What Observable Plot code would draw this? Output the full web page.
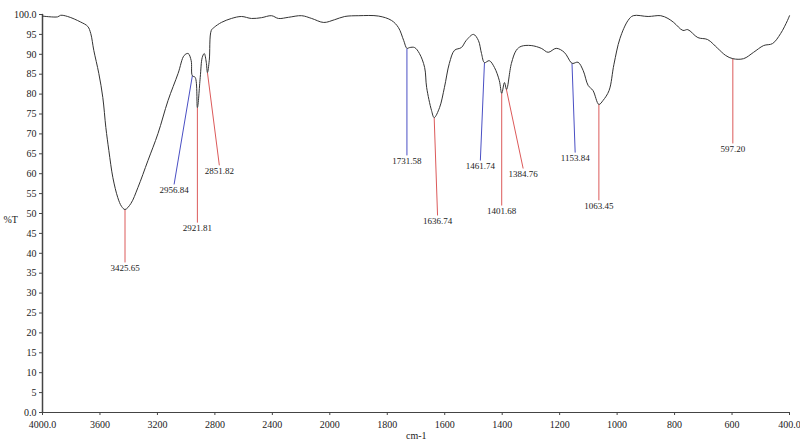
<!DOCTYPE html>
<html>
<head>
<meta charset="utf-8">
<script src="https://cdn.jsdelivr.net/npm/d3@7"></script>
<script src="https://cdn.jsdelivr.net/npm/@observablehq/plot@0.6"></script>
<style>
  html, body { margin: 0; padding: 0; background: #fff; }
  #chart svg { display: block; }
</style>
</head>
<body>
<div id="chart"></div>
<script>
// IR spectrum (%T vs wavenumber, cm-1)
const wavenumber = [4000, 3895, 3874, 3825, 3734, 3685, 3664, 3643, 3608, 3580, 3559, 3538, 3510, 3476, 3450, 3425.65,
  3385, 3336, 3266, 3196, 3126, 3056, 3014, 2986, 2965, 2956.84, 2937, 2921.81, 2902, 2888, 2874, 2860, 2851.82,
  2839, 2825, 2804, 2755, 2685, 2615, 2545, 2476, 2406, 2357, 2287, 2196, 2126, 2042, 1983, 1948, 1899, 1830,
  1785, 1761, 1743, 1731.58, 1722, 1705, 1688, 1670, 1663, 1646, 1636.74, 1618, 1601, 1584, 1566, 1542, 1525,
  1500, 1483, 1472, 1461.74, 1445, 1427, 1410, 1401.68, 1392, 1384.76, 1368, 1351, 1334, 1299, 1264, 1240,
  1212, 1184, 1160, 1153.84, 1136, 1118, 1101, 1084, 1063.45, 1049, 1028, 1011, 990, 962, 944, 892, 848,
  823, 803, 771, 754, 719, 685, 650, 622, 597.2, 560, 525, 490, 459, 431, 407, 400];
const transmittance = [99.6, 99.4, 99.8, 99.5, 98.1, 97.0, 95.2, 91.0, 85.2, 79.1, 71.6, 65.8, 59.0, 54.0, 51.8, 51.0,
  52.5, 56.5, 63.3, 70.1, 78.4, 85.2, 89.7, 90.2, 88.4, 84.6, 84.2, 76.6, 84.2, 89.2, 90.2, 88.0, 85.4,
  88.5, 96.0, 96.8, 98.0, 99.0, 99.5, 99.0, 99.2, 99.7, 99.0, 99.3, 99.7, 99.0, 98.0, 98.7, 99.5, 99.7, 99.6,
  98.5, 96.7, 93.5, 91.5, 91.7, 91.7, 90.2, 86.7, 81.7, 75.9, 74.1, 76.6, 81.7, 87.7, 91.0, 91.7, 93.5,
  95.0, 93.5, 90.2, 87.9, 88.4, 86.7, 83.4, 80.2, 82.9, 81.2, 87.7, 91.0, 92.0, 92.2, 91.5, 90.5,
  91.5, 90.5, 87.9, 87.7, 88.0, 85.9, 82.2, 80.9, 77.4, 78.4, 80.9, 87.5, 94.0, 98.5, 99.7, 99.5, 99.7,
  99.0, 98.0, 96.0, 96.2, 94.2, 93.7, 91.5, 89.7, 88.9, 88.9, 90.5, 92.2, 92.7, 95.2, 98.5, 99.7];

// Peak annotations
const peakLabels = ["3425.65", "2956.84", "2921.81", "2851.82", "1731.58", "1636.74", "1461.74", "1401.68", "1384.76", "1153.84", "1063.45", "597.20"];
const peakWn   = [3425.65, 2956.84, 2921.81, 2851.82, 1731.58, 1636.74, 1461.74, 1401.68, 1386, 1157, 1063.45, 597.2];
const peakT    = [51.0, 84.6, 76.6, 85.4, 91.5, 74.1, 87.9, 80.2, 81.4, 87.7, 77.4, 88.9];
const tipWn    = [3425.65, 3084, 2921.81, 2769, 1731.58, 1625, 1476, 1401.68, 1327, 1146, 1063.45, 597.2];
const tipT     = [37.7, 57.3, 47.7, 62.1, 64.6, 49.5, 63.3, 52.0, 61.3, 65.3, 53.3, 67.6];
const peakKind = ["red", "blue", "red", "red", "blue", "red", "blue", "red", "red", "blue", "red", "red"];

const xTicks = [4000, 3600, 3200, 2800, 2400, 2000, 1800, 1600, 1400, 1200, 1000, 800, 600, 400];
const yTicks = [0, 5, 10, 15, 20, 25, 30, 35, 40, 45, 50, 55, 60, 65, 70, 75, 80, 85, 90, 95, 100];

const spectrum = wavenumber.map((w, i) => ({w, t: transmittance[i]}));
const peaks = peakLabels.map((label, i) => ({
  label, w: peakWn[i], t: peakT[i], w2: tipWn[i], t2: tipT[i], kind: peakKind[i]
}));
const lineColor = {red: "#dc5a5a", blue: "#4a4fc4"};
// left axis line: the 4000 cm-1 edge from 0 to 100 %T
const yAxisLine = [{w: 4000, t: 0}, {w: 4000, t: 100}];

// the instrument's wavenumber axis is compressed 2:1 above 2000 cm-1
const axisBreak = w => (w > 2000 ? 2000 + (w - 2000) / 2 : w);
const axisUnbreak = u => (u > 2000 ? 2000 + (u - 2000) * 2 : u);
const fmtX = u => { const w = Math.round(axisUnbreak(u)); return (w === 4000 || w === 400) ? w.toFixed(1) : String(w); };

const chart = Plot.plot({
  width: 800,
  height: 445,
  marginLeft: 42,
  marginRight: 11,
  marginTop: 14,
  marginBottom: 33,
  style: {fontFamily: "'Liberation Serif', 'DejaVu Serif', serif", fontSize: "10px", color: "#222", background: "#fff"},
  x: {transform: axisBreak, reverse: true, label: null},
  y: {domain: [0, 100], label: null},
  marks: [
    Plot.frame({anchor: "bottom", stroke: "#444"}),
    Plot.frame({anchor: "left", stroke: "#444"}),
    Plot.line(yAxisLine, {x: "w", y: "t", stroke: "#444", strokeWidth: 1.5}),
    // axis tick positions go through the same axis-break mapping as the data
    Plot.axisX({ticks: xTicks.map(axisBreak), tickSize: 3, tickPadding: 5, fontSize: 10, stroke: "#444",
      tickFormat: fmtX, label: null}),
    Plot.axisY({ticks: yTicks, tickSize: 3, tickPadding: 3, fontSize: 10, stroke: "#444",
      tickFormat: d => (d === 0 || d === 100) ? d.toFixed(1) : String(d), label: null}),
    Plot.link(peaks, {x1: "w", y1: "t", x2: "w2", y2: "t2", stroke: d => lineColor[d.kind], strokeWidth: 1}),
    Plot.line(spectrum, {x: "w", y: "t", stroke: "#333", strokeWidth: 1, curve: "catmull-rom"}),
    Plot.text(peaks, {x: "w2", y: "t2", text: "label", lineAnchor: "top", dy: 2, fontSize: 9, fill: "#222"}),
    Plot.text(["%T"], {frameAnchor: "left", dx: -39, dy: 6, textAnchor: "start", fontSize: 10, fill: "#222"}),
    Plot.text(["cm-1"], {frameAnchor: "bottom", dx: -10, dy: 26, textAnchor: "start", fontSize: 10, fill: "#222"})
  ]
});
document.getElementById("chart").appendChild(chart);
</script>
</body>
</html>
